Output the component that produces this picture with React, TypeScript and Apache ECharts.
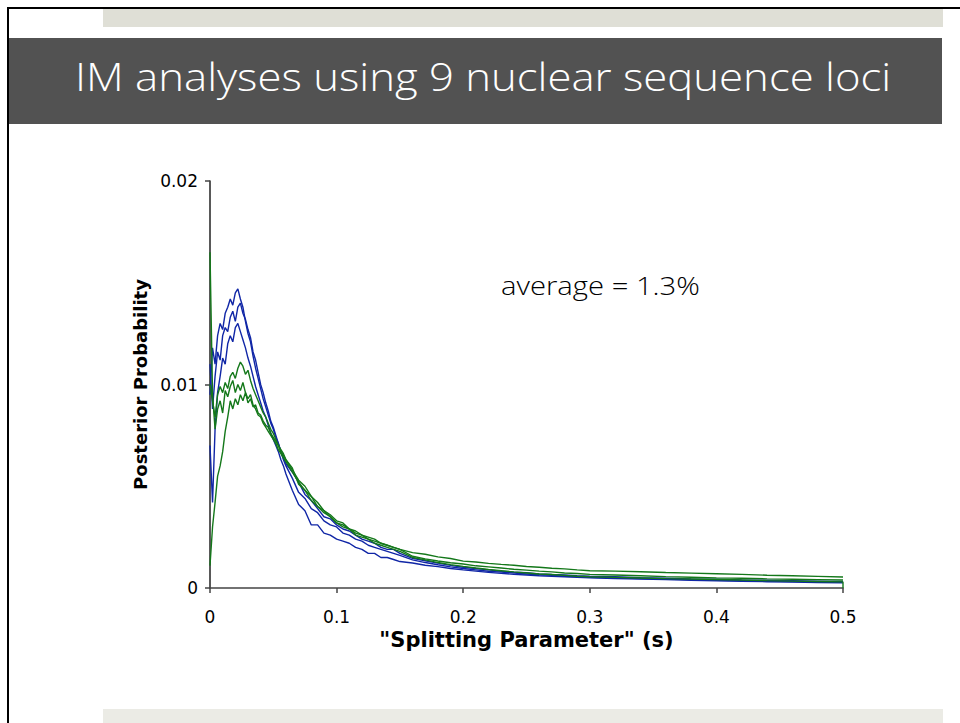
import React, { useEffect, useRef } from "react";
import * as echarts from "echarts";

// x positions ("Splitting Parameter" s)
const xValues = [
  0, 0.002, 0.004, 0.006, 0.008, 0.01, 0.012, 0.014, 0.016, 0.018, 0.02, 0.022, 0.024, 0.026, 0.028, 0.03,
  0.032, 0.034, 0.036, 0.038, 0.04, 0.042, 0.044, 0.046, 0.048, 0.05, 0.052, 0.054, 0.056, 0.058, 0.06,
  0.065, 0.07, 0.075, 0.08, 0.085, 0.09, 0.095, 0.1, 0.105, 0.11, 0.115, 0.12, 0.125, 0.13, 0.135, 0.14, 0.145, 0.15,
  0.16, 0.17, 0.18, 0.19, 0.2, 0.21, 0.22, 0.23, 0.24, 0.25, 0.26, 0.27, 0.28, 0.29, 0.3,
  0.32, 0.34, 0.36, 0.38, 0.4, 0.42, 0.44, 0.46, 0.48, 0.5,
];

// posterior probability values, in units of 1e-4
const blue1 = [
  95, 118, 110, 124, 130, 127, 135, 138, 142, 139, 145, 147, 142, 138, 131, 125, 121, 114, 108, 103, 98, 93, 89, 85, 81, 78, 74, 71, 67, 64, 61,
  57, 52, 46, 43, 39, 35, 34, 31, 29, 28, 26, 24, 23, 22, 20, 19, 19, 17,
  14.6, 13.4, 12.2, 11.1, 10.2, 9.6, 8.9, 8.2, 7.8, 7.5, 6.9, 6.6, 6.4, 6.0, 5.8,
  5.5, 5.1, 4.8, 4.5, 4.3, 4.0, 3.8, 3.6, 3.4, 3.2,
];
const blue2 = [
  110, 88, 104, 116, 112, 124, 128, 126, 133, 136, 131, 138, 140, 135, 132, 127, 123, 116, 112, 106, 100, 96, 91, 87, 82, 79, 75, 71, 67, 63, 60,
  54, 47, 44, 39, 37, 33, 31, 30, 27, 26, 24, 23, 21, 20, 19, 18, 17, 16,
  13.8, 12.5, 11.4, 10.4, 9.6, 8.9, 8.2, 7.8, 7.4, 6.9, 6.5, 6.2, 5.8, 5.6, 5.3,
  5.0, 4.7, 4.4, 4.1, 3.8, 3.6, 3.4, 3.2, 3.0, 2.8,
];
const blue3 = [
  70, 42, 78, 96, 104, 113, 110, 120, 124, 121, 128, 130, 126, 122, 118, 113, 109, 104, 99, 95, 91, 87, 84, 80, 76, 73, 70, 67, 63, 60, 56,
  48, 41, 38, 31, 31, 27, 26, 24, 23, 22, 20, 19, 17, 17, 15, 15, 14, 13,
  12.3, 11.2, 10.5, 9.6, 8.9, 8.3, 7.7, 7.2, 6.7, 6.4, 6.0, 5.7, 5.5, 5.2, 5.0,
  4.7, 4.4, 4.1, 3.8, 3.5, 3.3, 3.1, 2.9, 2.7, 2.5,
];
const green1 = [
  100, 92, 84, 95, 99, 96, 101, 98, 104, 106, 103, 108, 111, 109, 105, 107, 102, 98, 95, 92, 89, 86, 84, 81, 78, 76, 73, 70, 68, 66, 63,
  58, 53, 50, 45, 42, 38, 36, 33, 32, 29, 28, 26, 25, 24, 22, 21, 20, 19,
  17.4, 16.6, 15.3, 14.5, 13.2, 12.8, 12.1, 11.6, 11.2, 10.6, 10.2, 9.7, 9.4, 8.9, 8.5,
  8.3, 8.0, 7.6, 7.3, 7.0, 6.7, 6.3, 6.0, 5.7, 5.4,
];
const green2 = [
  165, 95, 78, 88, 92, 86, 97, 94, 99, 102, 96, 100, 97, 101, 96, 93, 95, 90, 88, 85, 84, 81, 79, 77, 75, 73, 71, 68, 66, 64, 62,
  57, 52, 48, 45, 40, 38, 35, 32, 31, 29, 27, 26, 24, 23, 22, 21, 20, 19,
  15.6, 14.3, 13.3, 12.4, 11.8, 10.9, 10.4, 9.8, 9.2, 8.8, 8.3, 7.9, 7.4, 7.1, 6.7,
  6.4, 6.0, 5.6, 5.3, 5.0, 4.8, 4.5, 4.3, 4.1, 3.9,
];
const green3 = [
  11, 30, 42, 55, 60, 67, 77, 84, 92, 88, 93, 90, 95, 92, 96, 91, 93, 89, 90, 86, 85, 82, 80, 79, 76, 74, 72, 70, 67, 65, 63,
  59, 51, 48, 43, 40, 37, 35, 32, 30, 29, 26, 25, 24, 22, 21, 20, 19, 18,
  15.0, 13.8, 12.5, 11.5, 10.6, 9.8, 9.1, 8.5, 7.9, 7.4, 6.9, 6.6, 6.2, 5.8, 5.5,
  5.2, 4.9, 4.6, 4.4, 4.2, 3.9, 3.6, 3.4, 3.2, 3.0,
];
// final drop of one run to zero at the right edge
const green3End = [[0.5, 0]];

const UNIT = 1e-4;
const xTicks = [0, 0.1, 0.2, 0.3, 0.4, 0.5];
const yTicks = [0, 0.01, 0.02];

const titleText = "IM analyses using 9 nuclear sequence loci";
const noteText = "average = 1.3%";
const xName = '"Splitting Parameter" (s)';
const yName = "Posterior Probability";

const BLUE = "#1026a6";
const GREEN = "#14781a";

export default function App() {
  const ref = useRef<HTMLDivElement>(null);
  useEffect(() => {
    document.body.style.margin = "0";
    const chart = echarts.init(ref.current!, null, { renderer: "svg" });
    const toData = (ys: number[]) => ys.map((y, i) => [xValues[i], y * UNIT]);
    const mk = (name: string, ys: number[], color: string, extra: number[][] = []) => ({
      name,
      type: "line",
      data: [...toData(ys), ...extra],
      showSymbol: false,
      symbol: "none",
      lineStyle: { width: 1.4, color },
      itemStyle: { color },
      z: 3,
    });
    const axisFont = { fontFamily: "DejaVu Sans", fontSize: 17, color: "#000" };
    chart.setOption({
      animation: false,
      backgroundColor: "#fff",
      grid: { left: 210, right: 117, top: 181, bottom: 135 },
      xAxis: {
        type: "value",
        min: xTicks[0],
        max: xTicks[xTicks.length - 1],
        interval: 0.1,
        name: xName,
        nameLocation: "middle",
        nameGap: 37,
        nameTextStyle: { fontFamily: "DejaVu Sans", fontSize: 21, fontWeight: "bold", color: "#000" },
        axisLine: { lineStyle: { color: "#444", width: 1.5 } },
        axisTick: { show: true, length: 5, lineStyle: { color: "#444", width: 1.5 } },
        axisLabel: { ...axisFont, margin: 20, formatter: (v: number) => (v === 0 ? "0" : v.toFixed(1)) },
        splitLine: { show: false },
      },
      yAxis: {
        type: "value",
        min: yTicks[0],
        max: yTicks[yTicks.length - 1],
        interval: 0.01,
        name: yName,
        nameLocation: "middle",
        nameGap: 58,
        nameTextStyle: { fontFamily: "DejaVu Sans", fontSize: 18, fontWeight: "bold", color: "#000" },
        axisLine: { show: true, lineStyle: { color: "#222", width: 1.5 } },
        axisTick: { show: true, length: 5, lineStyle: { color: "#444", width: 1.5 } },
        axisLabel: { ...axisFont, margin: 12, formatter: (v: number) => (v === 0 ? "0" : v.toFixed(2)) },
        splitLine: { show: false },
      },
      series: [
        mk("blue run 1", blue1, BLUE),
        mk("blue run 2", blue2, BLUE),
        mk("blue run 3", blue3, BLUE),
        mk("green run 1", green1, GREEN),
        mk("green run 2", green2, GREEN),
        mk("green run 3", green3, GREEN, green3End),
      ],
      graphic: [
        { type: "rect", shape: { x: 7, y: 7, width: 953, height: 2 }, style: { fill: "#000" }, z: 10 },
        { type: "rect", shape: { x: 7, y: 7, width: 2, height: 716 }, style: { fill: "#000" }, z: 10 },
        { type: "rect", shape: { x: 103, y: 9, width: 840, height: 18 }, style: { fill: "#dfdfd6" }, z: 1 },
        { type: "rect", shape: { x: 9, y: 38, width: 933, height: 86 }, style: { fill: "#525252" }, z: 1 },
        {
          type: "text",
          x: 75,
          y: 76,
          scaleX: 1.15,
          style: {
            text: titleText,
            fill: "#fff",
            fontFamily: "Open Sans",
            fontWeight: 300,
            fontSize: 38,
            verticalAlign: "middle",
            align: "left",
          },
          z: 2,
        },
        {
          type: "text",
          x: 501,
          y: 285,
          scaleX: 1.17,
          style: {
            text: noteText,
            fill: "#000",
            fontFamily: "Open Sans",
            fontWeight: 300,
            fontSize: 25,
            verticalAlign: "middle",
            align: "left",
          },
          z: 2,
        },
        { type: "rect", shape: { x: 103, y: 709, width: 840, height: 14 }, style: { fill: "#ebebe5" }, z: 1 },
      ],
    });
    return () => chart.dispose();
  }, []);
  return (
    <div
      ref={ref}
      style={{ position: "absolute", left: 0, top: 0, width: 960, height: 723, background: "#fff" }}
    />
  );
}
